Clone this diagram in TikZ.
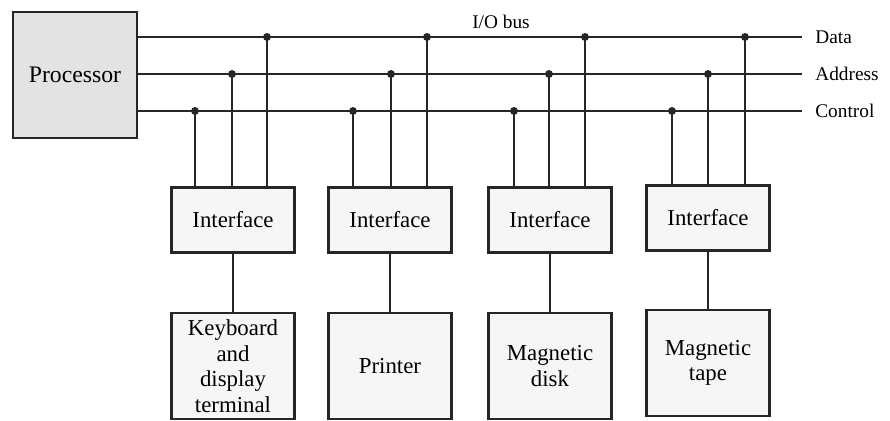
\documentclass[tikz,border=0pt]{standalone}
\usepackage{fontspec}
\setmainfont{Liberation Serif}
\usetikzlibrary{positioning}

\begin{document}
\begin{tikzpicture}[
  x=0.02cm, y=-0.02cm,
  box/.style={draw=black!85, line width=1.3pt, fill=gray!7, align=center,
    font=\fontsize{13}{14.5}\selectfont, inner sep=2pt},
  cpu/.style={box, fill=gray!22, minimum width=2.48cm, minimum height=2.52cm,
    font=\fontsize{13.5}{15}\selectfont},
  iface/.style={box, minimum width=2.46cm, minimum height=1.3cm},
  dev/.style={box, minimum width=2.46cm, minimum height=2.12cm},
  bus/.style={draw=black!85, line width=1.3pt, shorten >=0.26cm},
  tap/.style={draw=black!85, line width=1.1pt},
  lbl/.style={anchor=west, inner sep=0pt, font=\fontsize{11}{13}\selectfont},
  dot/.style={circle, fill=black!85, inner sep=0pt, minimum size=4.5pt}]

  \useasboundingbox (0,0) rectangle (890,421);

  \node[cpu] (proc) at (75,75) {Processor};

  \node[lbl, anchor=center] (iobus) at (501,22) {I/O bus};
  \node[lbl] (data) at (815,37) {Data};
  \node[lbl] (addr) at (815,74) {Address};
  \node[lbl] (ctrl) at (815,111) {Control};

  \draw[bus] (proc.east |- data) -- (data.west);
  \draw[bus] (proc.east |- addr) -- (addr.west);
  \draw[bus] (proc.east |- ctrl) -- (ctrl.west);

  \node[iface] (if1) at (233,220) {Interface};
  \node[iface] (if2) at (390,220) {Interface};
  \node[iface] (if3) at (550,220) {Interface};
  \node[iface] (if4) at (708,218) {Interface};

  \node[dev] (kbd)  at (233,366) {Keyboard\\and\\display\\terminal};
  \node[dev] (prn)  at (390,366) {Printer};
  \node[dev] (disk) at (550,366) {Magnetic\\disk};
  \node[dev] (tape) at (708,363) {Magnetic\\tape};

  % taps from the three bus lines down to each interface
  \foreach \i/\c/\a/\d/\dv in {1/195/232/267/kbd, 2/353/391/427/prn,
                               3/514/549/585/disk, 4/672/708/745/tape} {
    \draw[tap] (if\i.north -| \c,0) -- (\c,0 |- ctrl) node[dot] (tc\i) {};
    \draw[tap] (if\i.north -| \a,0) -- (\a,0 |- addr) node[dot] (ta\i) {};
    \draw[tap] (if\i.north -| \d,0) -- (\d,0 |- data) node[dot] (td\i) {};
    \draw[tap] (if\i.south) -- (\dv.north);
  }
\end{tikzpicture}
\end{document}
